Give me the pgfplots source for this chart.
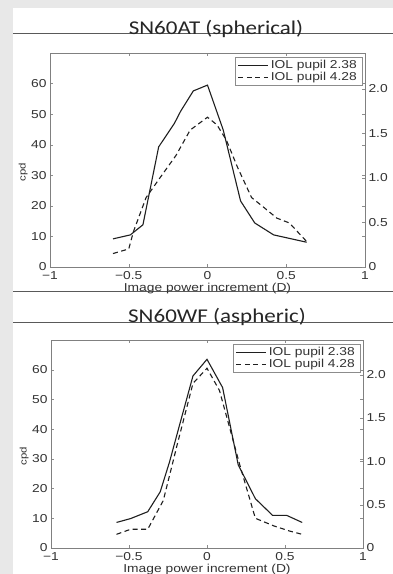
\documentclass[border=0pt]{standalone}
\usepackage{pgfplots}
\pgfplotsset{compat=1.18}
\usepackage{fontspec}
\setmainfont{Liberation Sans}[FakeStretch=1.2]
\newfontfamily\titlefont{Carlito}[FakeStretch=1.18]
\pgfplotsset{
  myax/.style={scale only axis, xmin=-1, xmax=1, ymin=0, ymax=70,
    xtick={-1,-0.5,0,0.5,1}, xticklabels={−1,−0.5,0,0.5,1},
    ytick={0,10,...,60}, ytick pos=both, tick align=inside,
    yticklabel pos=left,
    axis line style={black!50}, tick style={black!45, major tick length=3pt},
    ticklabel style={font=\fontsize{11.5}{12}\selectfont, text=black!80},
    xticklabel style={inner sep=4pt},
    label style={font=\fontsize{11.5}{12}\selectfont, text=black!80},
    xlabel={Image power increment (D)}, ylabel={cpd},
    xlabel style={inner sep=0pt, yshift=0pt},
    ylabel style={font=\fontsize{9.5}{10}\selectfont, inner sep=0pt, xshift=-12pt},
    /pgf/number format/assume math mode=true,
    legend style={at={(1,1)}, anchor=north east, xshift=-3pt, yshift=-4pt,
      font=\fontsize{11.5}{12}\selectfont, text=black!80, draw=black!45, inner xsep=3pt, inner ysep=1pt, row sep=-1.5pt},
    legend cell align=left,
    legend image code/.code={\draw[#1, line width=1pt] (-4pt,0pt) -- (26pt,0pt);},
  },
  rax/.style={scale only axis, xmin=-1, xmax=1, ymin=0, ymax=2.4,
    axis x line=none, axis y line*=right, tick align=inside,
    ytick={0,0.5,1,1.5,2}, yticklabels={0,0.5,1.0,1.5,2.0},
    axis line style={black!50}, tick style={black!45, major tick length=3pt},
    ticklabel style={font=\fontsize{11.5}{12}\selectfont, text=black!80},
    /pgf/number format/assume math mode=true},
  s1/.style={black!88, line width=1.1pt},
  s2/.style={black!88, line width=1.1pt, dash pattern=on 5pt off 3.5pt},
}
\begin{document}
\begin{tikzpicture}
\useasboundingbox (0pt,0pt) rectangle (393pt,574pt);
\clip (0pt,0pt) rectangle (393pt,574pt);
\fill[black!9] (0pt,0pt) rectangle (393pt,574pt);
\fill[white] (13pt,0pt) rectangle (393pt,566pt);
\draw[black!65, line width=0.8pt] (13pt,541pt) -- (393pt,541pt);
\draw[black!65, line width=0.8pt] (13pt,283pt) -- (393pt,283pt);
\draw[black!65, line width=0.8pt] (13pt,252pt) -- (393pt,252pt);
\node[font=\titlefont\fontsize{19.5}{20}\selectfont, anchor=base, text=black!85, inner sep=0pt] at (216pt,539pt) {SN60AT (spherical)};
\node[font=\titlefont\fontsize{19.5}{20}\selectfont, anchor=base, text=black!85, inner sep=0pt] at (217pt,251pt) {SN60WF (aspheric)};

\begin{axis}[myax, at={(50pt,307pt)}, anchor=south west, width=315pt, height=214pt]
\addplot[s1] coordinates {(-0.60,9.2) (-0.49,10.5) (-0.41,13.8) (-0.31,39.3) (-0.21,47) (-0.17,51) (-0.09,57.6) (0.0,59.5) (0.10,44.8) (0.21,21.6) (0.30,14.4) (0.42,10.5) (0.63,8.1)};
\addlegendentry{IOL pupil 2.38}
\addplot[s2] coordinates {(-0.60,4.4) (-0.50,5.9) (-0.47,11.6) (-0.39,22.7) (-0.30,29.3) (-0.20,36.5) (-0.11,44.8) (0,49) (0.06,46.5) (0.12,41.5) (0.19,32.7) (0.28,22.7) (0.36,19.4) (0.44,16) (0.52,14.4) (0.63,8.3)};
\addlegendentry{IOL pupil 4.28}
\end{axis}
\begin{axis}[rax, at={(50pt,307pt)}, anchor=south west, width=315pt, height=214pt]
\end{axis}

\begin{axis}[myax, at={(51pt,26pt)}, anchor=south west, width=312pt, height=208pt]
\addplot[s1] coordinates {(-0.58,8.6) (-0.49,9.9) (-0.38,12.2) (-0.30,18.9) (-0.24,29) (-0.18,40.6) (-0.09,57.9) (0.0,63.5) (0.10,54) (0.20,28) (0.31,16.6) (0.42,11) (0.51,11) (0.61,8.6)};
\addlegendentry{IOL pupil 2.38}
\addplot[s2] coordinates {(-0.58,4.6) (-0.49,6.3) (-0.38,6.3) (-0.28,16) (-0.19,35) (-0.09,55.4) (0,60.5) (0.08,53) (0.21,28) (0.31,10) (0.43,7.4) (0.53,5.7) (0.61,4.6)};
\addlegendentry{IOL pupil 4.28}
\end{axis}
\begin{axis}[rax, at={(51pt,26pt)}, anchor=south west, width=312pt, height=208pt]
\end{axis}
\end{tikzpicture}
\end{document}
